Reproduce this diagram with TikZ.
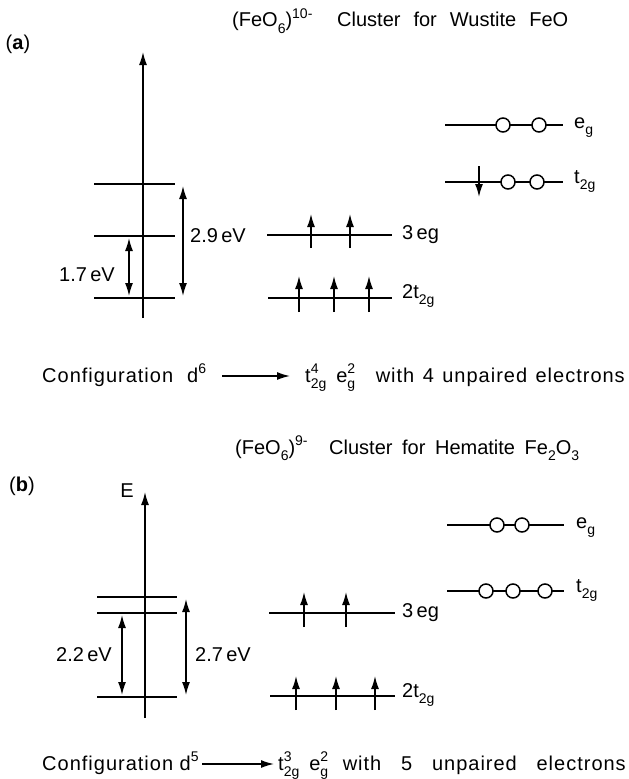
\documentclass[tikz,border=0pt]{standalone}
\usepackage{fontspec}
\setmainfont{Liberation Sans}
\newfontfamily\spaced{Liberation Sans}[LetterSpace=5]
\usetikzlibrary{arrows.meta}
\newcommand\myup[1]{\raisebox{0.42em}{\fontsize{14}{14}\selectfont #1}}
\newcommand\mydn[1]{\raisebox{-0.3em}{\fontsize{14}{14}\selectfont #1}}
\newcommand\myud[2]{\makebox[0pt][l]{\myup{#1}}\mydn{#2}}
\begin{document}
\begin{tikzpicture}[x=1pt,y=-1pt,
  lvl/.style={line width=1.7pt},
  tip/.style={-{Latex[length=13pt,width=8pt]}, line width=1.5pt},
  dbl/.style={{Latex[length=13pt,width=8pt]}-{Latex[length=13pt,width=8pt]}, line width=1.5pt},
  orb/.style={circle,draw,fill=white,line width=1.5pt,minimum size=14pt,inner sep=0pt},
  txt/.style={inner sep=0pt,font=\fontsize{20}{24}\selectfont}]
\useasboundingbox[fill=white] (0,0) rectangle (629,779);

% ================= panel (a) =================
\node[txt,anchor=base west] (atitA) at (232,27) {(FeO\mydn{6})\myup{10-}};
\node[txt,anchor=base west] (atitB) at (337,27) {\makebox[231pt][s]{Cluster for Wustite FeO}};
\node[txt] (alab) at (18,44) {(\textbf{a})};

\coordinate (aAxB) at (143,318);
\coordinate (aAxT) at (143,52);
\draw[tip] (aAxB) -- (aAxT);

\coordinate (aL1w) at (94,184); \coordinate (aL1e) at (175,184);
\coordinate (aL2w) at (94,236); \coordinate (aL2e) at (175,236);
\coordinate (aL3w) at (94,298); \coordinate (aL3e) at (175,298);
\draw[lvl] (aL1w) -- (aL1e);
\draw[lvl] (aL2w) -- (aL2e);
\draw[lvl] (aL3w) -- (aL3e);

\coordinate (a29t) at (183,186); \coordinate (a29b) at (183,296);
\draw[dbl] (a29t) -- (a29b);
\node[txt,anchor=west] (a29) at (190,236) {2.9\,eV};
\coordinate (a17t) at (129,238); \coordinate (a17b) at (129,296);
\draw[dbl] (a17t) -- (a17b);
\node[txt] (a17) at (87,275) {1.7\,eV};

% middle levels
\coordinate (aMegW) at (267,235); \coordinate (aMegE) at (392,235);
\draw[lvl] (aMegW) -- (aMegE);
\foreach \x in {311,350} \draw[tip] (\x,248) -- (\x,214);
\node[txt,anchor=base west] (aMegL) at (402,239) {3\,eg};
\coordinate (aMtW) at (268,298); \coordinate (aMtE) at (392,298);
\draw[lvl] (aMtW) -- (aMtE);
\foreach \x in {299,334,369} \draw[tip] (\x,312) -- (\x,276);
\node[txt,anchor=base west] (aMtL) at (402,298) {2t\mydn{2g}};

% right levels
\coordinate (aReW) at (445,125); \coordinate (aReE) at (563,125);
\draw[lvl] (aReW) -- (aReE);
\node[orb] (ae1) at (503,125) {};
\node[orb] (ae2) at (539,125) {};
\node[txt,anchor=base west] (aReL) at (574,128) {e\mydn{g}};
\coordinate (aRtW) at (445,182); \coordinate (aRtE) at (563,182);
\draw[lvl] (aRtW) -- (aRtE);
\draw[tip] (479,166) -- (479,197);
\node[orb] (at1) at (508,182) {};
\node[orb] (at2) at (537,182) {};
\node[txt,anchor=base west] (aRtL) at (574,183) {t\mydn{2g}};

% configuration line
\node[txt,anchor=base west] (aC1) at (42,382) {\spaced Configuration\hspace{14pt}d\myup{6}};
\coordinate (aCa) at (222,376); \coordinate (aCb) at (290,376);
\draw[tip] (aCa) -- (aCb);
\node[txt,anchor=base west] (aC2) at (305,382) {t\myud{4}{2g}\hspace{10pt}e\myud{2}{g}};
\node[txt,anchor=base east] (aC3) at (625,382) {\makebox[249pt][s]{\spaced with 4 unpaired electrons}};

% ================= panel (b) =================
\node[txt,anchor=base west] (btitA) at (235,454) {(FeO\mydn{6})\myup{9-}};
\node[txt,anchor=base west] (btitB) at (329,454) {\makebox[250pt][s]{Cluster for Hematite Fe\mydn{2}O\mydn{3}}};
\node[txt] (blab) at (22,486) {(\textbf{b})};
\node[txt] (bE) at (127,491) {E};

\coordinate (bAxB) at (145,718);
\coordinate (bAxT) at (145,492);
\draw[tip] (bAxB) -- (bAxT);

\coordinate (bL1w) at (97,597); \coordinate (bL1e) at (177,597);
\coordinate (bL2w) at (97,613); \coordinate (bL2e) at (177,613);
\coordinate (bL3w) at (97,697); \coordinate (bL3e) at (177,697);
\draw[lvl] (bL1w) -- (bL1e);
\draw[lvl] (bL2w) -- (bL2e);
\draw[lvl] (bL3w) -- (bL3e);

\coordinate (b22t) at (122,615); \coordinate (b22b) at (122,695);
\draw[dbl] (b22t) -- (b22b);
\node[txt] (b22) at (84,655) {2.2\,eV};
\coordinate (b27t) at (186,599); \coordinate (b27b) at (186,695);
\draw[dbl] (b27t) -- (b27b);
\node[txt,anchor=west] (b27) at (195,655) {2.7\,eV};

% middle levels
\coordinate (bMegW) at (269,613); \coordinate (bMegE) at (395,613);
\draw[lvl] (bMegW) -- (bMegE);
\foreach \x in {304,346} \draw[tip] (\x,627) -- (\x,592);
\node[txt,anchor=base west] (bMegL) at (402,617) {3\,eg};
\coordinate (bMtW) at (270,696); \coordinate (bMtE) at (395,696);
\draw[lvl] (bMtW) -- (bMtE);
\foreach \x in {296,336,375} \draw[tip] (\x,710) -- (\x,676);
\node[txt,anchor=base west] (bMtL) at (402,697) {2t\mydn{2g}};

% right levels
\coordinate (bReW) at (447,525); \coordinate (bReE) at (564,525);
\draw[lvl] (bReW) -- (bReE);
\node[orb] (be1) at (497,525) {};
\node[orb] (be2) at (522,525) {};
\node[txt,anchor=base west] (bReL) at (576,528) {e\mydn{g}};
\coordinate (bRtW) at (447,591); \coordinate (bRtE) at (564,591);
\draw[lvl] (bRtW) -- (bRtE);
\node[orb] (bt1) at (486,591) {};
\node[orb] (bt2) at (513,591) {};
\node[orb] (bt3) at (545,591) {};
\node[txt,anchor=base west] (bRtL) at (576,592) {t\mydn{2g}};

% configuration line
\node[txt,anchor=base west] (bC1) at (42,770) {\spaced Configuration d\myup{5}};
\coordinate (bCa) at (202,764); \coordinate (bCb) at (274,764);
\draw[tip] (bCa) -- (bCb);
\node[txt,anchor=base west] (bC2) at (278,770) {t\myud{3}{2g}\hspace{10pt}e\myud{2}{g}};
\node[txt,anchor=base east] (bC3) at (626,770) {\makebox[283pt][s]{\spaced with 5 unpaired electrons}};
\end{tikzpicture}
\end{document}
